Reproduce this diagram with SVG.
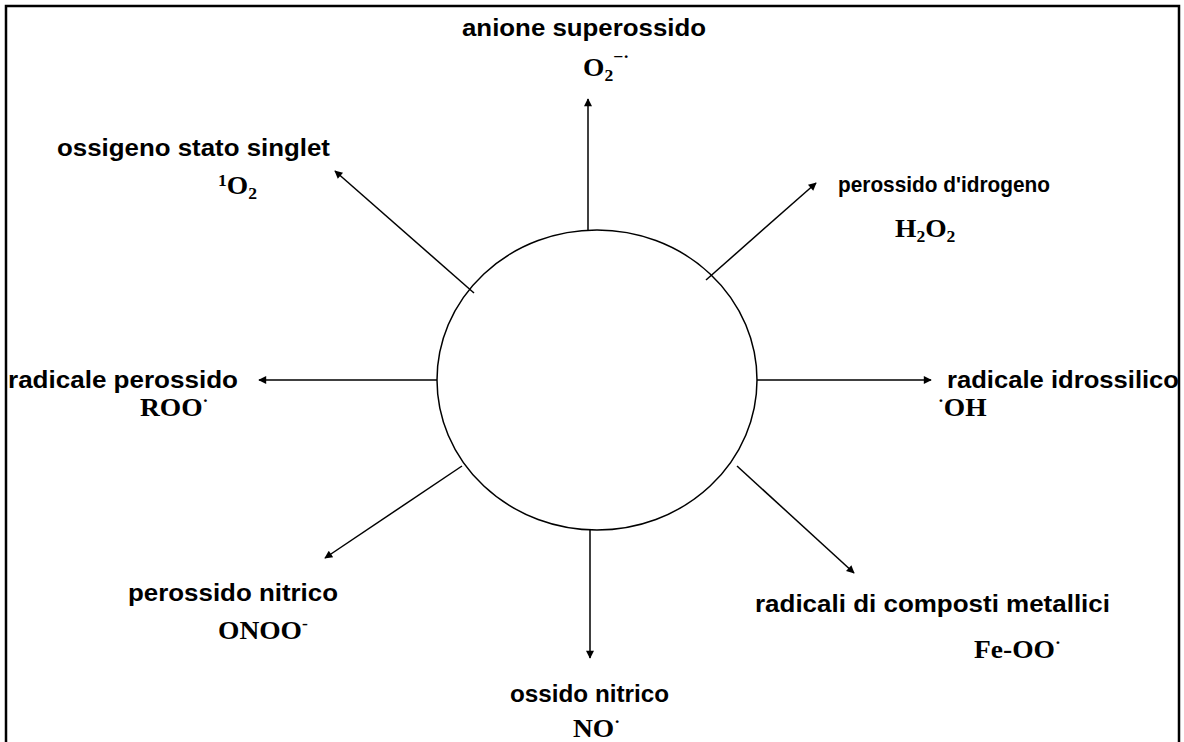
<svg xmlns="http://www.w3.org/2000/svg" width="1184" height="742" viewBox="0 0 1184 742">
<style>
.lbl{font-family:"Liberation Sans",Arial,sans-serif;font-weight:bold;font-size:23px;fill:#000}
.f{font-family:"Liberation Serif","Times New Roman",serif;font-weight:bold;font-size:25px;fill:#000}
.s{font-size:16px}
.c{stroke:#000;stroke-width:1.5;fill:none;marker-end:url(#ah)}
</style>
<defs>
<marker id="ah" viewBox="0 0 10 10" refX="9" refY="5" markerWidth="10" markerHeight="8" markerUnits="userSpaceOnUse" orient="auto">
<path d="M0,0 L10,5 L0,10 z" fill="#000"/>
</marker>
</defs>
<rect width="1184" height="742" fill="#fff"/>
<path d="M6,742 V6 H1179 V742" fill="none" stroke="#000" stroke-width="2.5"/>
<g id="center"><ellipse cx="597" cy="380" rx="160" ry="150" fill="#fff" stroke="#000" stroke-width="1.5"/></g>
<g id="connectors">
<line class="c" x1="588" y1="230" x2="588" y2="99"/>
<line class="c" x1="474" y1="293" x2="335" y2="171"/>
<line class="c" x1="706" y1="280" x2="816" y2="183"/>
<line class="c" x1="437" y1="380" x2="259" y2="380"/>
<line class="c" x1="757" y1="380" x2="931" y2="380"/>
<line class="c" x1="462" y1="466" x2="325" y2="558"/>
<line class="c" x1="737" y1="466" x2="854" y2="573"/>
<line class="c" x1="590" y1="530" x2="590" y2="658"/>
</g>
<g id="n-superossido">
<text class="lbl" x="462" y="36" textLength="244" lengthAdjust="spacingAndGlyphs">anione superossido</text>
<text class="f" transform="translate(583,76) scale(1.1,1)">O<tspan class="s" dy="5">2</tspan><tspan class="s" dy="-19">−·</tspan></text>
</g>
<g id="n-singlet">
<text class="lbl" x="57" y="156" textLength="273" lengthAdjust="spacingAndGlyphs">ossigeno stato singlet</text>
<text class="f" transform="translate(218,194) scale(1.1,1)"><tspan class="s" dy="-8">1</tspan><tspan dy="8">O</tspan><tspan class="s" dy="5">2</tspan></text>
</g>
<g id="n-perossido-idrogeno">
<text class="lbl" x="838" y="192" style="font-size:22px" textLength="212" lengthAdjust="spacingAndGlyphs">perossido d'idrogeno</text>
<text class="f" transform="translate(895,237) scale(1.1,1)">H<tspan class="s" dy="5">2</tspan><tspan dy="-5">O</tspan><tspan class="s" dy="5">2</tspan></text>
</g>
<g id="n-radicale-perossido">
<text class="lbl" x="8" y="388" textLength="230" lengthAdjust="spacingAndGlyphs">radicale perossido</text>
<text class="f" transform="translate(140,416) scale(1.1,1)">ROO<tspan class="s" dy="-10">·</tspan></text>
</g>
<g id="n-idrossilico">
<text class="lbl" x="947" y="388" textLength="232" lengthAdjust="spacingAndGlyphs">radicale idrossilico</text>
<text class="f" transform="translate(938,416) scale(1.1,1)"><tspan class="s" dy="-10">·</tspan><tspan dy="10">OH</tspan></text>
</g>
<g id="n-perossido-nitrico">
<text class="lbl" x="128" y="601" textLength="210" lengthAdjust="spacingAndGlyphs">perossido nitrico</text>
<text class="f" transform="translate(218,639) scale(1.1,1)">ONOO<tspan class="s" dy="-10">-</tspan></text>
</g>
<g id="n-metallici">
<text class="lbl" x="755" y="612" textLength="355" lengthAdjust="spacingAndGlyphs">radicali di composti metallici</text>
<text class="f" transform="translate(974,658) scale(1.1,1)">Fe-OO<tspan class="s" dy="-10">·</tspan></text>
</g>
<g id="n-ossido-nitrico">
<text class="lbl" x="510" y="702" textLength="159" lengthAdjust="spacingAndGlyphs">ossido nitrico</text>
<text class="f" transform="translate(573,737) scale(1.1,1)">NO<tspan class="s" dy="-10">·</tspan></text>
</g>
</svg>
